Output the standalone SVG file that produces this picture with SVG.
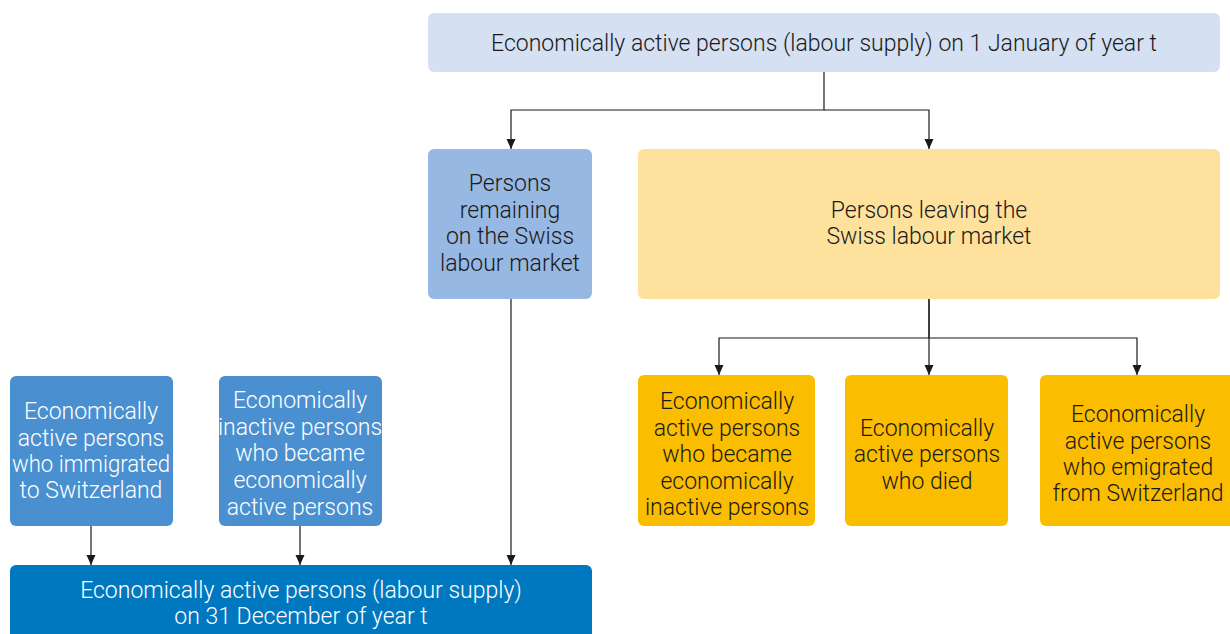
<svg xmlns="http://www.w3.org/2000/svg" width="1230" height="634" viewBox="0 0 1230 634">
<defs>
<style>
text{font-family:Roboto,"Liberation Sans",sans-serif;font-weight:300;font-size:23px;text-anchor:middle;fill:#1a1a1a}
.w{fill:#ffffff}
.c{stroke:#1a1a1a;stroke-width:1.2;fill:none}
</style>
<marker id="b" markerWidth="11" markerHeight="11" refX="10" refY="5" orient="auto" markerUnits="userSpaceOnUse" viewBox="0 0 11 11"><path d="M0,0.5 L10,5 L0,9.5 Z" fill="#1a1a1a"/></marker>
</defs>
<rect width="1230" height="634" fill="#ffffff"/>
<g id="connectors">
<path class="c" d="M824,72 V110 H511 V149" marker-end="url(#b)"/>
<path class="c" d="M824,110 H929 V149" marker-end="url(#b)"/>
<path class="c" d="M929,299 V338 H719 V375" marker-end="url(#b)"/>
<path class="c" d="M929,299 V375" marker-end="url(#b)"/>
<path class="c" d="M929,338 H1137 V375" marker-end="url(#b)"/>
<path class="c" d="M511,299 V565" marker-end="url(#b)"/>
<path class="c" d="M91,526 V565" marker-end="url(#b)"/>
<path class="c" d="M300,526 V565" marker-end="url(#b)"/>
</g>
<g id="top">
<rect x="428" y="13" width="792" height="59" rx="6" fill="#d5e0f2"/>
<text x="824" y="51">Economically active persons (labour supply) on 1 January of year t</text>
</g>
<g id="remaining">
<rect x="428" y="149" width="164" height="150" rx="6" fill="#97b8e2"/>
<text x="510" y="191">Persons</text>
<text x="510" y="218">remaining</text>
<text x="510" y="244">on the Swiss</text>
<text x="510" y="271">labour market</text>
</g>
<g id="leaving">
<rect x="638" y="149" width="582" height="150" rx="6" fill="#fde19c"/>
<text x="929" y="218">Persons leaving the</text>
<text x="929" y="244">Swiss labour market</text>
</g>
<g id="inactive">
<rect x="638" y="375" width="177" height="151" rx="6" fill="#fbbd00"/>
<text x="727" y="409">Economically</text>
<text x="727" y="436">active persons</text>
<text x="727" y="462">who became</text>
<text x="727" y="489">economically</text>
<text x="727" y="515">inactive persons</text>
</g>
<g id="died">
<rect x="845" y="375" width="163" height="151" rx="6" fill="#fbbd00"/>
<text x="927" y="436">Economically</text>
<text x="927" y="462">active persons</text>
<text x="927" y="489">who died</text>
</g>
<g id="emigrated">
<rect x="1040" y="375" width="196" height="151" rx="6" fill="#fbbd00"/>
<text x="1138" y="422">Economically</text>
<text x="1138" y="449">active persons</text>
<text x="1138" y="475">who emigrated</text>
<text x="1138" y="501">from Switzerland</text>
</g>
<g id="immigrated">
<rect x="10" y="376" width="163" height="150" rx="6" fill="#4a90d0"/>
<text class="w" x="91" y="419">Economically</text>
<text class="w" x="91" y="446">active persons</text>
<text class="w" x="91" y="472" textLength="158" lengthAdjust="spacingAndGlyphs">who immigrated</text>
<text class="w" x="91" y="498">to Switzerland</text>
</g>
<g id="became-active">
<rect x="219" y="376" width="163" height="150" rx="6" fill="#4a90d0"/>
<text class="w" x="300" y="408">Economically</text>
<text class="w" x="300" y="435">inactive persons</text>
<text class="w" x="300" y="461">who became</text>
<text class="w" x="300" y="488">economically</text>
<text class="w" x="300" y="515">active persons</text>
</g>
<g id="bottom">
<rect x="10" y="565" width="582" height="80" rx="6" fill="#0078c0"/>
<text class="w" x="301" y="598">Economically active persons (labour supply)</text>
<text class="w" x="301" y="624">on 31 December of year t</text>
</g>
</svg>
